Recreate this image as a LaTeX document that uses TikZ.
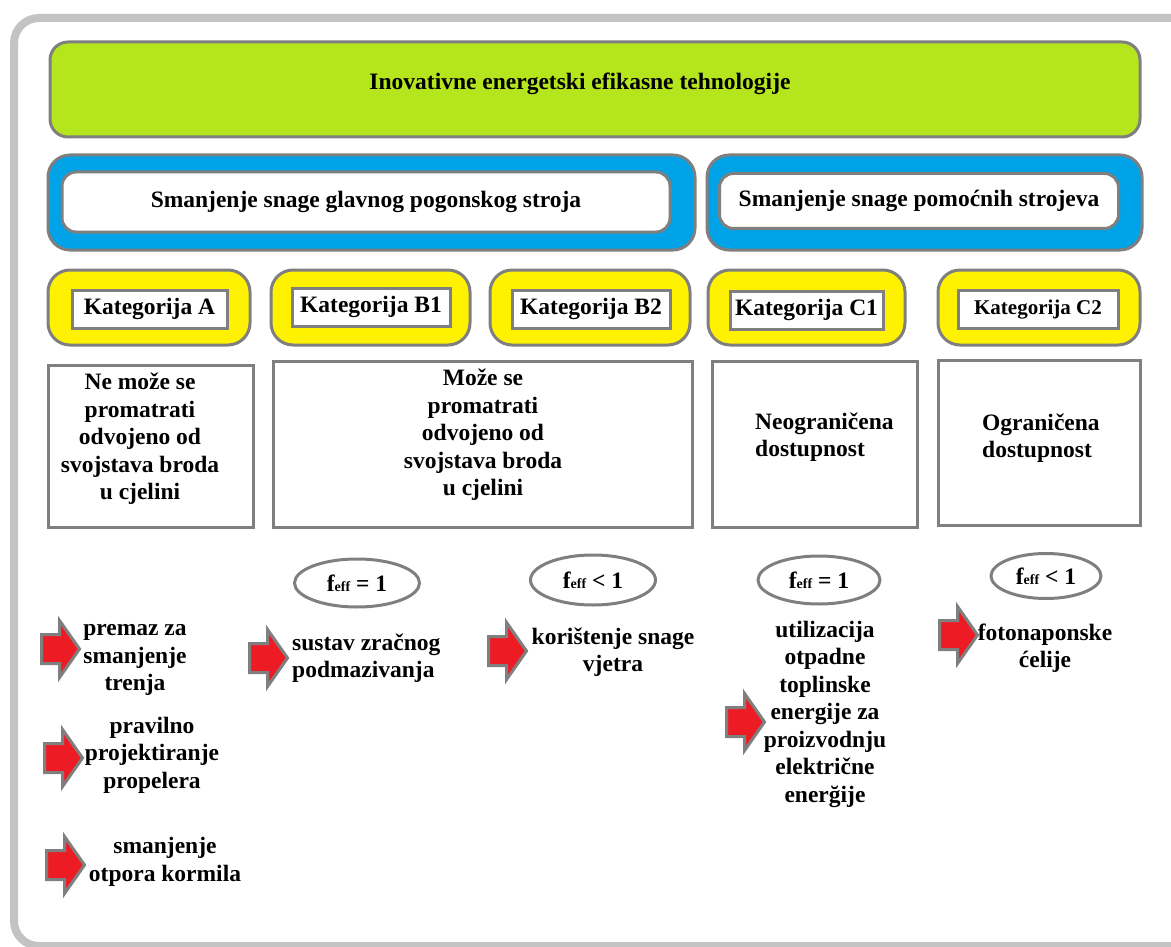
\documentclass[tikz,border=0pt]{standalone}
\usepackage{fontspec}
\setmainfont{Liberation Serif}
\usetikzlibrary{shapes.geometric,shapes.arrows}
\definecolor{limegreen}{HTML}{B5E61D}
\definecolor{skyblue}{HTML}{00A2E8}
\definecolor{signyellow}{HTML}{FFF200}
\definecolor{arrowred}{HTML}{ED1C24}
\definecolor{edgegray}{HTML}{7F7F7F}
\definecolor{framegray}{HTML}{C3C3C3}
\newcommand{\feff}{f{\fontsize{14}{14}\selectfont eff}}
\newcommand{\pointer}[2]{
  \node[redarrow, anchor=tail] (#1) at (#2) {};
}
\tikzset{
  every node/.style = {font=\bfseries\fontsize{23.5}{27.5}\selectfont,
                       align=center, inner sep=0pt},
  greenbox/.style   = {draw=edgegray, fill=limegreen, line width=3,
                       rounded corners=18},
  bluebox/.style    = {draw=edgegray, fill=skyblue, line width=3,
                       rounded corners=22},
  whitecap/.style   = {draw=edgegray, fill=white, line width=3,
                       rounded corners=14},
  yellowbox/.style  = {draw=edgegray, fill=signyellow, line width=3,
                       rounded corners=22},
  catlabel/.style   = {draw=edgegray, fill=white, line width=3},
  descbox/.style    = {draw=edgegray, fill=white, line width=3},
  effoval/.style    = {ellipse, draw=edgegray, line width=3},
  redarrow/.style   = {single arrow, draw=edgegray, fill=arrowred,
                       line width=3, inner xsep=0pt, inner ysep=13pt,
                       minimum width=56, minimum height=38,
                       single arrow head extend=14,
                       single arrow tip angle=110}
}

\begin{document}
\begin{tikzpicture}[x=1pt, y=-1pt]
  \useasboundingbox (0,0) rectangle (1171,947);
  \draw[framegray, line width=8, rounded corners=25] (14,18) rectangle (1196,946);

  % top level
  \node[greenbox, minimum width=1090, minimum height=95] (top) at (595,89.5) {};
  \node (topText) at (580,84) {Inovativne energetski efikasne tehnologije};

  % main / auxiliary engines
  \node[bluebox, minimum width=647, minimum height=95] (mainEng) at (371.5,202.5) {};
  \node[whitecap, minimum width=608, minimum height=60] (mainEngText) at (366,202)
    {Smanjenje snage glavnog pogonskog stroja};
  \node[bluebox, minimum width=435, minimum height=95] (auxEng) at (924.5,202.5) {};
  \node[whitecap, minimum width=399, minimum height=55] (auxEngText) at (919,201)
    {Smanjenje snage pomoćnih strojeva};

  % categories
  \node[yellowbox, minimum width=202, minimum height=75] (catAbg)  at (149,307.5) {};
  \node[yellowbox, minimum width=199, minimum height=75] (catBabg) at (370.5,307.5) {};
  \node[yellowbox, minimum width=200, minimum height=75] (catBbbg) at (590,307.5) {};
  \node[yellowbox, minimum width=197, minimum height=75] (catCabg) at (806.5,307.5) {};
  \node[yellowbox, minimum width=202, minimum height=75] (catCbbg) at (1039,307.5) {};
  \node[catlabel, minimum width=155, minimum height=38] (catA)  at (149.5,309) {Kategorija A};
  \node[catlabel, minimum width=158, minimum height=38] (catBa) at (371,307) {Kategorija B1};
  \node[catlabel, minimum width=158, minimum height=38] (catBb) at (591,309) {Kategorija B2};
  \node[catlabel, minimum width=153, minimum height=38] (catCa) at (806.5,310) {Kategorija C1};
  \node[catlabel, minimum width=160, minimum height=38,
        font=\bfseries\fontsize{21}{25}\selectfont] (catCb) at (1038,309.5) {Kategorija C2};

  % descriptions
  \node[descbox, minimum width=205, minimum height=162] (descA)  at (150.5,446) {};
  \node[descbox, minimum width=419, minimum height=166] (descB)  at (482.5,444) {};
  \node[descbox, minimum width=205, minimum height=166] (descCa) at (814.5,444) {};
  \node[descbox, minimum width=202, minimum height=165] (descCb) at (1039,442.5) {};
  \node (descAText) at (140,439)
    {Ne može se\\promatrati\\odvojeno od\\svojstava broda\\u cjelini};
  \node (descBText) at (483,435)
    {Može se\\promatrati\\odvojeno od\\svojstava broda\\u cjelini};
  \node[anchor=west, align=left] (descCaText) at (755,437) {Neograničena\\dostupnost};
  \node[anchor=west, align=left] (descCbText) at (982,438) {Ograničena\\dostupnost};

  % efficiency factors
  \node[effoval, minimum width=125, minimum height=48] (effBa) at (357,583) {\feff{} = 1};
  \node[effoval, minimum width=125, minimum height=50] (effBb) at (593,580) {\feff{} < 1};
  \node[effoval, minimum width=122, minimum height=48] (effCa) at (819,580) {\feff{} = 1};
  \node[effoval, minimum width=110, minimum height=45] (effCb) at (1046,576) {\feff{} < 1};

  % technologies
  \pointer{arA1}{40,649}
  \pointer{arA2}{43,758}
  \pointer{arA3}{45,865}
  \pointer{arBa}{248,658}
  \pointer{arBb}{487,651}
  \pointer{arCa}{725,722}
  \pointer{arCb}{938,635}
  \node (techA1) at (135,660) {premaz za\\smanjenje\\trenja};
  \node (techA2) at (152,755) {pravilno\\projektiranje\\propelera};
  \node (techA3) at (165,862) {smanjenje\\otpora kormila};
  \node[anchor=west, align=left] (techBa) at (292,658) {sustav zračnog\\podmazivanja};
  \node (techBb) at (613,652) {korištenje snage\\vjetra};
  \node (techCa) at (825,714)
    {utilizacija\\otpadne\\toplinske\\energije za\\proizvodnju\\električne\\enerğije};
  \node (techCb) at (1045,648) {fotonaponske\\ćelije};
\end{tikzpicture}
\end{document}
